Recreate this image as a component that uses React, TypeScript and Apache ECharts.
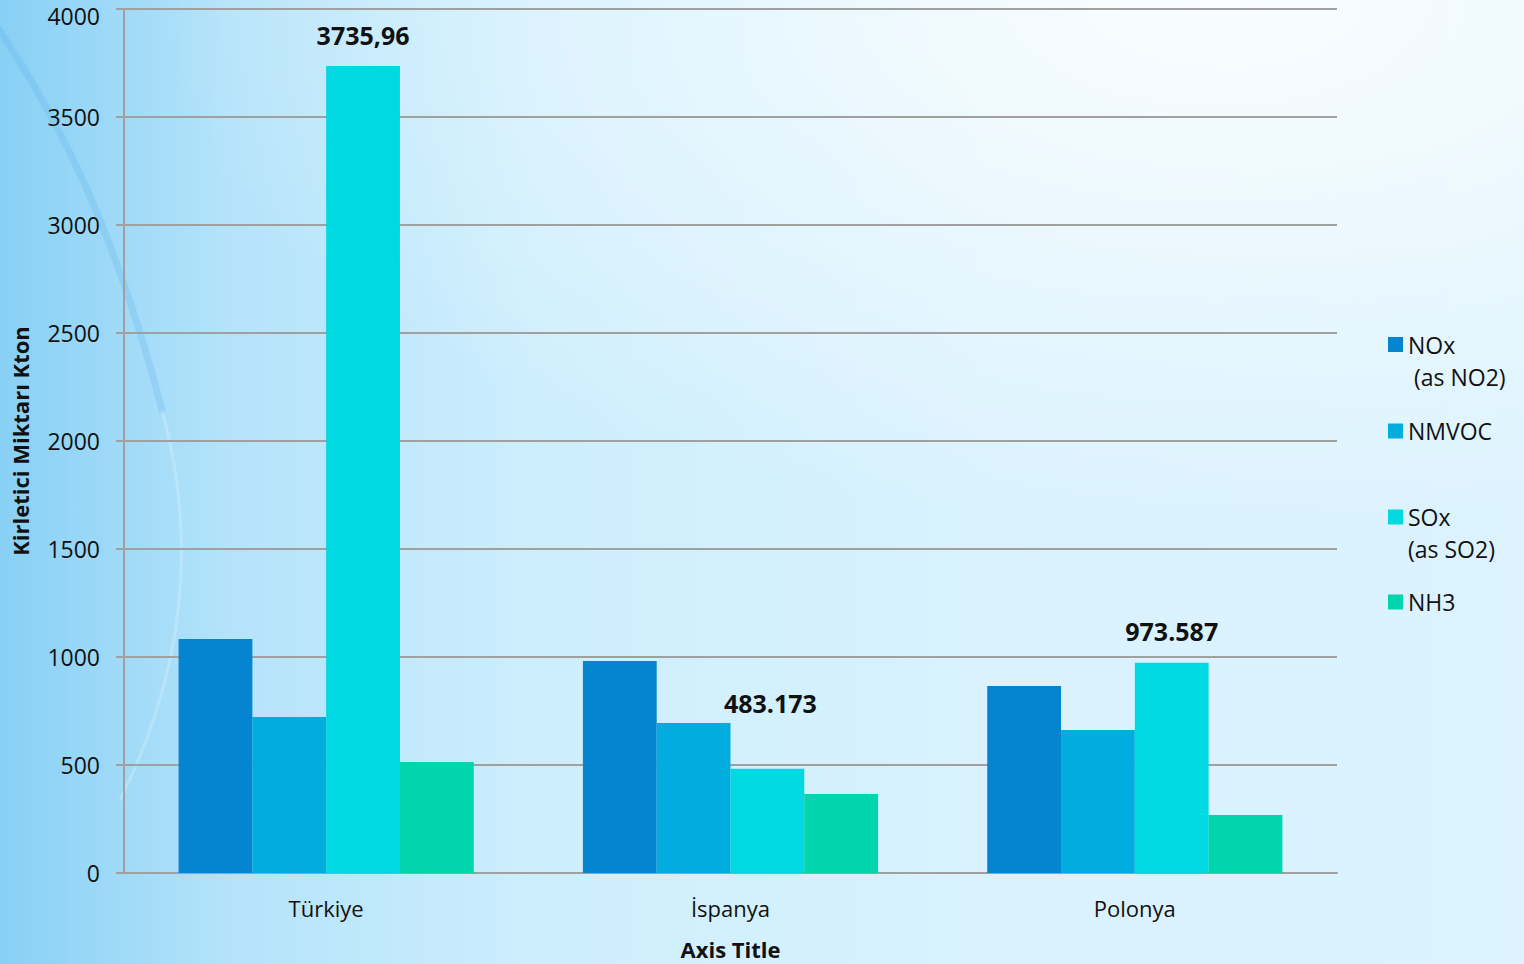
import React, { useEffect, useRef } from "react";
import * as echarts from "echarts";

const categories = ["Türkiye", "İspanya", "Polonya"];
const seriesNames = ["NOx (as NO2)", "NMVOC", "SOx (as SO2)", "NH3"];
const legendTexts = ["\nNOx\n (as NO2)", "NMVOC", "\nSOx\n(as SO2)", "NH3"];
const noxValues = [1083, 981, 866];
const nmvocValues = [722, 694, 662];
const soxValues = [3735.96, 483.173, 973.587];
const nh3Values = [514, 366, 269];
const soxLabels = ["3735,96", "483.173", "973.587"];
const colors = ["#0584d0", "#00adde", "#00d8e2", "#00d5ad"];
const yTicks = [0, 4000, 500];

const FONT = "'Open Sans', sans-serif";

export default function App() {
  const ref = useRef<HTMLDivElement>(null);
  useEffect(() => {
    if (!ref.current) return;
    const chart = echarts.init(ref.current, undefined, { renderer: "svg" });
    const valueSets = [noxValues, nmvocValues, soxValues, nh3Values];
    const series = seriesNames.map((name, i) => ({
      name,
      type: "bar",
      barGap: "0%",
      barCategoryGap: "27%",
      itemStyle: { color: colors[i] },
      data:
        i === 2
          ? valueSets[i].map((v, j) => ({
              value: v,
              label: {
                show: true,
                position: "top",
                distance: 19,
                offset: j === 1 ? [3, -34] : [0, 0],
                formatter: soxLabels[j],
                fontFamily: FONT,
                fontWeight: "bold",
                fontSize: 25,
                color: "#111",
              },
            }))
          : valueSets[i],
    }));
    const legendCenters = [344.5, 431, 517, 602];
    const legends = seriesNames.map((name, i) => {
      const lines = legendTexts[i].split("\n").length;
      return {
        show: true,
        orient: "vertical",
        left: 1388,
        top: legendCenters[i] - (lines * 32) / 2,
        padding: 0,
        itemWidth: 15,
        itemHeight: 15,
        itemGap: 0,
        icon: "rect",
        selectedMode: false,
        data: [name],
        formatter: () => legendTexts[i],
        textStyle: { fontFamily: FONT, fontSize: 23, color: "#111", lineHeight: 32 },
      };
    });
    chart.setOption({
      animation: false,
      legend: legends,
      grid: {
        left: 124,
        right: 187,
        top: 9,
        bottom: 91,
        containLabel: false,
        outerBoundsMode: "none",
      },
      graphic: [
        {
          type: "bezierCurve",
          silent: true,
          z: -10,
          shape: { x1: -6, y1: 22, cpx1: 60, cpy1: 120, cpx2: 115, cpy2: 230, x2: 162, y2: 410 },
          style: { stroke: "rgba(80,165,230,0.2)", lineWidth: 7, fill: null, lineCap: "round" },
        },
        {
          type: "bezierCurve",
          silent: true,
          z: -10,
          shape: { x1: 162, y1: 410, cpx1: 195, cpy1: 530, cpx2: 190, cpy2: 660, x2: 120, y2: 800 },
          style: { stroke: "rgba(255,255,255,0.2)", lineWidth: 3, fill: null },
        },
      ],
      xAxis: {
        type: "category",
        data: categories,
        name: "Axis Title",
        nameLocation: "middle",
        nameGap: 65,
        nameTextStyle: { fontFamily: FONT, fontWeight: "bold", fontSize: 22, color: "#111" },
        axisLine: { lineStyle: { color: "#a0a0a0", width: 2 } },
        axisTick: { show: false },
        axisLabel: { fontFamily: FONT, fontSize: 22, color: "#111", margin: 24 },
      },
      yAxis: {
        type: "value",
        min: yTicks[0],
        max: yTicks[1],
        interval: yTicks[2],
        name: "Kirletici Miktarı Kton",
        nameLocation: "middle",
        nameGap: 93,
        nameTextStyle: { fontFamily: FONT, fontWeight: "bold", fontSize: 22, color: "#111" },
        axisLine: { show: true, lineStyle: { color: "#a0a0a0", width: 2 } },
        axisTick: { show: true, length: 8, lineStyle: { color: "#a0a0a0", width: 2 } },
        splitLine: { lineStyle: { color: "#a0a0a0", width: 2 } },
        axisLabel: {
          fontFamily: FONT,
          fontSize: 23,
          lineHeight: 22,
          color: "#111",
          margin: 24,
          formatter: (v: number) => (v === yTicks[1] ? `{top|${v}}` : String(v)),
          rich: {
            top: {
              fontFamily: FONT,
              fontSize: 23,
              lineHeight: 22,
              color: "#111",
              padding: [14, 0, 0, 0],
            },
          },
        },
      },
      series,
    });
    return () => chart.dispose();
  }, []);
  return (
    <div
      style={{
        position: "fixed",
        left: 0,
        top: 0,
        width: 1524,
        height: 964,
        background:
          "radial-gradient(ellipse 70% 55% at 80% 0%, rgba(255,255,255,0.85), rgba(255,255,255,0) 100%), linear-gradient(to right, #88d0f5 0%, #b4e3fa 15%, #cdeefd 35%, #d9f2fe 65%, #dcf3fe 100%)",
      }}
    >
      <div ref={ref} style={{ width: 1524, height: 964 }} />
    </div>
  );
}
